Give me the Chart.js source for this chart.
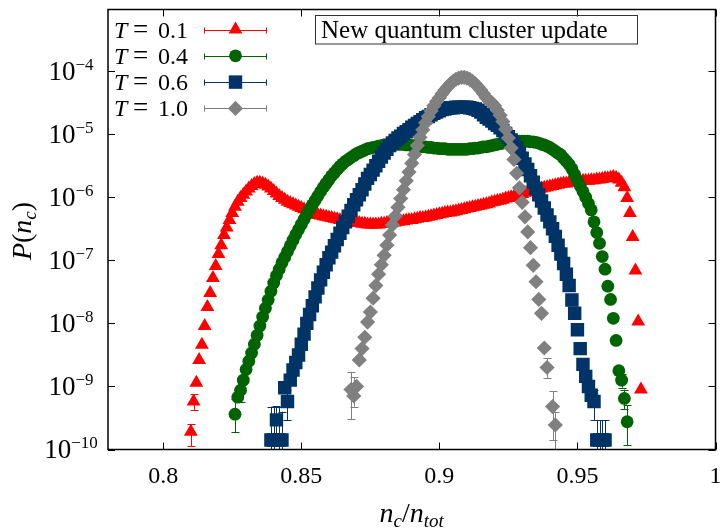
<!DOCTYPE html>
<html>
<head>
<meta charset="utf-8">
<script src="https://cdn.jsdelivr.net/npm/chart.js@4.4.1/dist/chart.umd.min.js"></script>
<style>
  html, body { margin: 0; padding: 0; background: #fff; }
  #wrap { width: 725px; height: 531px; }
</style>
</head>
<body>
<div id="wrap"><canvas id="c"></canvas></div>
<script>
// P(n_c), as [n_c/n_tot, log10 P]
const t01 = [
  [0.810,-9.72],[0.811,-9.24],[0.812,-8.94],[0.813,-8.58],[0.814,-8.34],[0.815,-8.04],[0.816,-7.74],[0.817,-7.52],
  [0.818,-7.28],[0.819,-7.09],[0.820,-6.90],[0.821,-6.76],[0.822,-6.60],[0.823,-6.48],[0.824,-6.36],[0.825,-6.25],
  [0.826,-6.15],[0.827,-6.07],[0.828,-6.01],[0.829,-5.96],[0.830,-5.91],[0.831,-5.86],[0.832,-5.82],[0.833,-5.79],
  [0.834,-5.77],[0.835,-5.77],[0.836,-5.78],[0.837,-5.80],[0.838,-5.83],[0.839,-5.86],[0.840,-5.90],[0.841,-5.94],
  [0.842,-5.98],[0.843,-6.01],[0.844,-6.04],[0.845,-6.07],[0.846,-6.09],[0.847,-6.11],[0.848,-6.13],[0.849,-6.15],
  [0.850,-6.17],[0.851,-6.19],[0.852,-6.21],[0.853,-6.23],[0.854,-6.25],[0.855,-6.26],[0.856,-6.28],[0.857,-6.29],
  [0.858,-6.30],[0.859,-6.31],[0.860,-6.32],[0.861,-6.33],[0.862,-6.34],[0.863,-6.35],[0.864,-6.36],[0.865,-6.37],
  [0.866,-6.38],[0.867,-6.39],[0.868,-6.40],[0.869,-6.40],[0.870,-6.41],[0.871,-6.41],[0.872,-6.42],[0.873,-6.42],
  [0.874,-6.43],[0.875,-6.43],[0.876,-6.43],[0.877,-6.43],[0.878,-6.43],[0.879,-6.42],[0.880,-6.42],[0.881,-6.41],
  [0.882,-6.41],[0.883,-6.40],[0.884,-6.40],[0.885,-6.39],[0.886,-6.38],[0.887,-6.38],[0.888,-6.37],[0.889,-6.36],
  [0.890,-6.36],[0.891,-6.35],[0.892,-6.34],[0.893,-6.33],[0.894,-6.33],[0.895,-6.32],[0.896,-6.31],[0.897,-6.30],
  [0.898,-6.29],[0.899,-6.28],[0.900,-6.27],[0.901,-6.26],[0.902,-6.25],[0.903,-6.24],[0.904,-6.24],[0.905,-6.23],
  [0.906,-6.22],[0.907,-6.21],[0.908,-6.20],[0.909,-6.19],[0.910,-6.18],[0.911,-6.17],[0.912,-6.16],[0.913,-6.15],
  [0.914,-6.14],[0.915,-6.13],[0.916,-6.12],[0.917,-6.11],[0.918,-6.10],[0.919,-6.08],[0.920,-6.07],[0.921,-6.06],
  [0.922,-6.05],[0.923,-6.04],[0.924,-6.02],[0.925,-6.01],[0.926,-6.00],[0.927,-5.99],[0.928,-5.97],[0.929,-5.96],
  [0.930,-5.95],[0.931,-5.93],[0.932,-5.92],[0.933,-5.91],[0.934,-5.89],[0.935,-5.88],[0.936,-5.87],[0.937,-5.86],
  [0.938,-5.85],[0.939,-5.84],[0.940,-5.83],[0.941,-5.82],[0.942,-5.81],[0.943,-5.80],[0.944,-5.79],[0.945,-5.78],
  [0.946,-5.78],[0.947,-5.77],[0.948,-5.76],[0.949,-5.76],[0.950,-5.75],[0.951,-5.75],[0.952,-5.74],[0.953,-5.74],
  [0.954,-5.74],[0.955,-5.73],[0.956,-5.73],[0.957,-5.72],[0.958,-5.72],[0.959,-5.71],[0.960,-5.70],[0.961,-5.70],
  [0.962,-5.69],[0.963,-5.68],[0.964,-5.69],[0.965,-5.72],[0.966,-5.77],[0.967,-5.84],[0.968,-6.01],[0.969,-6.25],
  [0.970,-6.63],[0.971,-7.16],[0.972,-7.97],[0.973,-9.05]
];
const t04 = [
  [0.826,-9.44],[0.827,-9.17],[0.828,-9.06],[0.829,-8.90],[0.830,-8.73],[0.831,-8.60],[0.832,-8.47],[0.833,-8.33],
  [0.834,-8.19],[0.835,-8.04],[0.836,-7.90],[0.837,-7.76],[0.838,-7.63],[0.839,-7.49],[0.840,-7.36],[0.841,-7.24],
  [0.842,-7.14],[0.843,-7.04],[0.844,-6.95],[0.845,-6.86],[0.846,-6.77],[0.847,-6.68],[0.848,-6.59],[0.849,-6.51],
  [0.850,-6.43],[0.851,-6.35],[0.852,-6.27],[0.853,-6.19],[0.854,-6.12],[0.855,-6.05],[0.856,-5.98],[0.857,-5.91],
  [0.858,-5.84],[0.859,-5.78],[0.860,-5.72],[0.861,-5.66],[0.862,-5.61],[0.863,-5.56],[0.864,-5.51],[0.865,-5.47],
  [0.866,-5.43],[0.867,-5.40],[0.868,-5.37],[0.869,-5.34],[0.870,-5.31],[0.871,-5.29],[0.872,-5.27],[0.873,-5.25],
  [0.874,-5.23],[0.875,-5.22],[0.876,-5.21],[0.877,-5.20],[0.878,-5.19],[0.879,-5.18],[0.880,-5.17],[0.881,-5.17],
  [0.882,-5.16],[0.883,-5.16],[0.884,-5.16],[0.885,-5.16],[0.886,-5.16],[0.887,-5.16],[0.888,-5.17],[0.889,-5.17],
  [0.890,-5.18],[0.891,-5.18],[0.892,-5.19],[0.893,-5.19],[0.894,-5.20],[0.895,-5.20],[0.896,-5.21],[0.897,-5.21],
  [0.898,-5.22],[0.899,-5.22],[0.900,-5.23],[0.901,-5.23],[0.902,-5.23],[0.903,-5.24],[0.904,-5.24],[0.905,-5.24],
  [0.906,-5.24],[0.907,-5.24],[0.908,-5.24],[0.909,-5.24],[0.910,-5.24],[0.911,-5.23],[0.912,-5.23],[0.913,-5.22],
  [0.914,-5.22],[0.915,-5.21],[0.916,-5.20],[0.917,-5.20],[0.918,-5.19],[0.919,-5.18],[0.920,-5.17],[0.921,-5.16],
  [0.922,-5.15],[0.923,-5.14],[0.924,-5.13],[0.925,-5.13],[0.926,-5.12],[0.927,-5.12],[0.928,-5.11],[0.929,-5.11],
  [0.930,-5.11],[0.931,-5.11],[0.932,-5.11],[0.933,-5.12],[0.934,-5.12],[0.935,-5.13],[0.936,-5.14],[0.937,-5.16],
  [0.938,-5.17],[0.939,-5.19],[0.940,-5.21],[0.941,-5.24],[0.942,-5.27],[0.943,-5.30],[0.944,-5.33],[0.945,-5.38],
  [0.946,-5.43],[0.947,-5.48],[0.948,-5.55],[0.949,-5.64],[0.950,-5.73],[0.951,-5.82],[0.952,-5.91],[0.953,-6.00],
  [0.954,-6.10],[0.955,-6.20],[0.956,-6.39],[0.957,-6.56],[0.958,-6.73],[0.959,-6.94],[0.960,-7.14],[0.961,-7.41],
  [0.962,-7.62],[0.963,-7.92],[0.964,-8.27],[0.965,-8.75],[0.966,-8.90],[0.967,-9.19],[0.968,-9.56]
];
const t06 = [
  [0.839,-9.85],[0.840,-9.85],[0.841,-9.53],[0.842,-9.85],[0.843,-9.85],[0.844,-9.02],[0.845,-9.24],[0.846,-8.90],
  [0.847,-8.74],[0.848,-8.62],[0.849,-8.50],[0.850,-8.33],[0.851,-8.17],[0.852,-8.00],[0.853,-7.86],[0.854,-7.72],
  [0.855,-7.58],[0.856,-7.44],[0.857,-7.31],[0.858,-7.19],[0.859,-7.07],[0.860,-6.96],[0.861,-6.87],[0.862,-6.77],
  [0.863,-6.67],[0.864,-6.57],[0.865,-6.48],[0.866,-6.39],[0.867,-6.30],[0.868,-6.21],[0.869,-6.12],[0.870,-6.04],
  [0.871,-5.96],[0.872,-5.88],[0.873,-5.79],[0.874,-5.70],[0.875,-5.64],[0.876,-5.57],[0.877,-5.50],[0.878,-5.43],
  [0.879,-5.36],[0.880,-5.30],[0.881,-5.24],[0.882,-5.18],[0.883,-5.14],[0.884,-5.10],[0.885,-5.06],[0.886,-5.03],
  [0.887,-4.99],[0.888,-4.96],[0.889,-4.93],[0.890,-4.89],[0.891,-4.86],[0.892,-4.83],[0.893,-4.80],[0.894,-4.77],
  [0.895,-4.74],[0.896,-4.72],[0.897,-4.69],[0.898,-4.67],[0.899,-4.65],[0.900,-4.63],[0.901,-4.61],[0.902,-4.60],
  [0.903,-4.59],[0.904,-4.58],[0.905,-4.58],[0.906,-4.57],[0.907,-4.57],[0.908,-4.57],[0.909,-4.57],[0.910,-4.57],
  [0.911,-4.58],[0.912,-4.59],[0.913,-4.60],[0.914,-4.62],[0.915,-4.65],[0.916,-4.69],[0.917,-4.73],[0.918,-4.76],
  [0.919,-4.79],[0.920,-4.83],[0.921,-4.86],[0.922,-4.90],[0.923,-4.94],[0.924,-4.99],[0.925,-5.04],[0.926,-5.09],
  [0.927,-5.15],[0.928,-5.22],[0.929,-5.30],[0.930,-5.38],[0.931,-5.47],[0.932,-5.56],[0.933,-5.66],[0.934,-5.76],
  [0.935,-5.86],[0.936,-5.96],[0.937,-6.06],[0.938,-6.17],[0.939,-6.28],[0.940,-6.39],[0.941,-6.50],[0.942,-6.62],
  [0.943,-6.76],[0.944,-6.90],[0.945,-7.05],[0.946,-7.22],[0.947,-7.40],[0.948,-7.63],[0.949,-7.84],[0.950,-8.10],
  [0.951,-8.40],[0.952,-8.65],[0.953,-8.84],[0.954,-9.00],[0.955,-9.14],[0.956,-9.24],[0.957,-9.85],[0.958,-9.85],
  [0.959,-9.85],[0.960,-9.85]
];
const t10 = [
  [0.868,-9.05],[0.869,-9.15],[0.870,-9.00],[0.871,-8.58],[0.872,-8.40],[0.873,-8.22],[0.874,-7.98],[0.875,-7.82],
  [0.876,-7.60],[0.877,-7.40],[0.878,-7.22],[0.879,-7.07],[0.880,-6.92],[0.881,-6.76],[0.882,-6.60],[0.883,-6.44],
  [0.884,-6.30],[0.885,-6.16],[0.886,-6.02],[0.887,-5.88],[0.888,-5.74],[0.889,-5.60],[0.890,-5.46],[0.891,-5.32],
  [0.892,-5.18],[0.893,-5.05],[0.894,-4.93],[0.895,-4.82],[0.896,-4.72],[0.897,-4.63],[0.898,-4.55],[0.899,-4.48],
  [0.900,-4.42],[0.901,-4.36],[0.902,-4.30],[0.903,-4.25],[0.904,-4.20],[0.905,-4.16],[0.906,-4.13],[0.907,-4.11],
  [0.908,-4.10],[0.909,-4.10],[0.910,-4.11],[0.911,-4.13],[0.912,-4.16],[0.913,-4.20],[0.914,-4.25],[0.915,-4.30],
  [0.916,-4.36],[0.917,-4.42],[0.918,-4.47],[0.919,-4.50],[0.920,-4.55],[0.921,-4.62],[0.922,-4.70],[0.923,-4.80],
  [0.924,-4.92],[0.925,-5.06],[0.926,-5.22],[0.927,-5.40],[0.928,-5.62],[0.929,-5.85],[0.930,-6.08],[0.931,-6.31],
  [0.932,-6.55],[0.933,-6.80],[0.934,-7.08],[0.935,-7.34],[0.936,-7.62],[0.937,-7.84],[0.938,-8.39],[0.939,-8.70],
  [0.941,-9.32],[0.942,-9.61]
];

// error bars on the sparse tail points: [n_c/n_tot, log10 low, log10 high]
const err01 = [[0.810,-9.95,-9.60],[0.811,-9.37,-9.12]];
const err04 = [[0.826,-9.73,-9.20],[0.828,-9.25,-8.90],[0.966,-9.02,-8.80],[0.967,-9.36,-9.05],[0.968,-9.93,-9.30]];
const err06 = [[0.839,-10.3,-9.32],[0.840,-10.3,-9.32],[0.841,-9.80,-9.31],[0.842,-10.3,-9.32],[0.843,-10.3,-9.40],
  [0.845,-9.54,-9.05],[0.956,-9.53,-9.05],[0.957,-10.3,-9.54],[0.958,-10.3,-9.54],[0.959,-10.3,-9.54],[0.960,-10.3,-9.54]];
const err10 = [[0.868,-9.52,-8.77],[0.869,-9.32,-8.85],[0.939,-8.87,-8.55],[0.941,-9.85,-9.08],[0.942,-10.3,-9.40]];

const temps = ['0.1', '0.4', '0.6', '1.0'];
const xTicks = [0.8, 0.85, 0.9, 0.95, 1];
const xTickLabels = ['0.8', '0.85', '0.9', '0.95', '1'];
const yTickExp = [-10, -9, -8, -7, -6, -5, -4];
const boxText = 'New quantum cluster update';

const colors = ['#ff0000', '#006400', '#003366', '#808080'];
const shapes = ['triangle', 'circle', 'rect', 'rectRot'];
const radii = [8, 6.4, 9.5, 7.6];
const SERIF = '"Liberation Serif", "DejaVu Serif", serif';

const series = [t01, t04, t06, t10];
const errs = [err01, err04, err06, err10];

const datasets = series.map((s, i) => ({
  label: 'T = ' + temps[i],
  data: s.map(p => ({ x: p[0], y: Math.pow(10, p[1]) })),
  pointStyle: shapes[i],
  pointRadius: radii[i],
  pointHoverRadius: radii[i],
  backgroundColor: colors[i],
  borderColor: colors[i],
  pointBorderWidth: 0,
  borderWidth: 0,
  showLine: false,
  order: 4 - i
}));

function marker(ctx, i, x, y) {
  ctx.fillStyle = colors[i];
  Chart.helpers.drawPoint(ctx, { pointStyle: shapes[i], rotation: 0, radius: radii[i], borderWidth: 0 }, x, y);
}

// draws a list of [text, italic, size, dy] pieces left to right, returns width
function pieces(ctx, parts, x, y, measureOnly) {
  let w = 0;
  parts.forEach(p => {
    ctx.font = (p[1] ? 'italic ' : '') + p[2] + 'px ' + SERIF;
    if (!measureOnly) ctx.fillText(p[0], x + w, y + (p[3] || 0));
    w += ctx.measureText(p[0]).width;
  });
  return w;
}

const decor = {
  id: 'decor',
  beforeDatasetsDraw(chart) {
    const ctx = chart.ctx, a = chart.chartArea;
    const xs = chart.scales.x, ys = chart.scales.y;
    ctx.save();
    ctx.beginPath();
    ctx.rect(a.left, a.top, a.right - a.left, a.bottom - a.top);
    ctx.clip();
    ctx.lineWidth = 1;
    errs.forEach((list, i) => {
      ctx.strokeStyle = colors[i];
      list.forEach(e => {
        const px = Math.round(xs.getPixelForValue(e[0])) + 0.5;
        const lo = ys.getPixelForValue(Math.pow(10, e[1]));
        const hi = ys.getPixelForValue(Math.pow(10, e[2]));
        ctx.beginPath();
        ctx.moveTo(px, lo); ctx.lineTo(px, hi);
        ctx.moveTo(px - 4, Math.round(lo) + 0.5); ctx.lineTo(px + 4, Math.round(lo) + 0.5);
        ctx.moveTo(px - 4, Math.round(hi) + 0.5); ctx.lineTo(px + 4, Math.round(hi) + 0.5);
        ctx.stroke();
      });
    });
    ctx.restore();
  },
  afterDraw(chart) {
    const ctx = chart.ctx, a = chart.chartArea;
    const xs = chart.scales.x, ys = chart.scales.y;
    ctx.save();

    // frame and inward ticks
    ctx.strokeStyle = '#000';
    ctx.lineWidth = 1.5;
    ctx.strokeRect(a.left, a.top, a.right - a.left, a.bottom - a.top);
    ctx.lineWidth = 1;
    ctx.beginPath();
    xTicks.forEach(v => {
      const px = Math.round(xs.getPixelForValue(v)) + 0.5;
      ctx.moveTo(px, a.bottom); ctx.lineTo(px, a.bottom - 7);
      ctx.moveTo(px, a.top); ctx.lineTo(px, a.top + 7);
    });
    yTickExp.forEach(e => {
      const py = Math.round(ys.getPixelForValue(Math.pow(10, e))) + 0.5;
      ctx.moveTo(a.left, py); ctx.lineTo(a.left + 7, py);
      ctx.moveTo(a.right, py); ctx.lineTo(a.right - 7, py);
    });
    ctx.stroke();

    ctx.fillStyle = '#000';
    ctx.textBaseline = 'alphabetic';

    // x tick labels
    ctx.font = '24px ' + SERIF;
    ctx.textAlign = 'center';
    xTicks.forEach((v, k) => {
      ctx.fillText(xTickLabels[k], xs.getPixelForValue(v), 483);
    });

    // y tick labels 10^e
    ctx.textAlign = 'left';
    yTickExp.forEach(e => {
      const py = ys.getPixelForValue(Math.pow(10, e));
      const parts = [['10', false, 27, 0], ['\u2212' + (-e), false, 17, -10]];
      const w = pieces(ctx, parts, 0, 0, true);
      pieces(ctx, parts, 71 - w / 2, py + 8.5);
    });

    // axis titles
    const xt = [['n', true, 28, 0], ['c', true, 19, 5], ['/', false, 28, 0], ['n', true, 28, 0], ['tot', true, 19, 5]];
    const xw = pieces(ctx, xt, 0, 0, true);
    pieces(ctx, xt, (a.left + a.right) / 2 - xw / 2, 522);

    const yt = [['P', true, 28, 0], ['(', false, 28, 0], ['n', true, 28, 0], ['c', true, 19, 5], [')', false, 28, 0]];
    const yw = pieces(ctx, yt, 0, 0, true);
    ctx.save();
    ctx.translate(31, 231);
    ctx.rotate(-Math.PI / 2);
    pieces(ctx, yt, -yw / 2, 0);
    ctx.restore();

    // legend with error-bar samples
    temps.forEach((t, i) => {
      const y = 29.5 + i * 26.3;
      ctx.fillStyle = '#000';
      pieces(ctx, [['T', true, 24, 0]], 114, y + 8);
      pieces(ctx, [['=', false, 27, 0]], 133, y + 8);
      pieces(ctx, [[t, false, 24, 0]], 158, y + 8);
      ctx.strokeStyle = colors[i];
      ctx.lineWidth = 1;
      const yy = Math.round(y) + 0.5;
      ctx.beginPath();
      ctx.moveTo(204, yy); ctx.lineTo(267, yy);
      ctx.moveTo(204.5, yy - 3); ctx.lineTo(204.5, yy + 3);
      ctx.moveTo(266.5, yy - 3); ctx.lineTo(266.5, yy + 3);
      ctx.stroke();
      marker(ctx, i, 235.5, y);
    });

    // boxed label
    ctx.strokeStyle = '#333';
    ctx.lineWidth = 1;
    ctx.strokeRect(315.5, 15.5, 322, 28.5);
    ctx.fillStyle = '#000';
    ctx.font = '25px ' + SERIF;
    ctx.textAlign = 'left';
    ctx.fillText(boxText, 321, 37.5);

    ctx.restore();
  }
};

new Chart(document.getElementById('c'), {
  type: 'scatter',
  data: { datasets: datasets },
  options: {
    responsive: true,
    maintainAspectRatio: false,
    animation: false,
    events: [],
    layout: { padding: { left: 108, right: 8, top: 9, bottom: 81.5 } },
    plugins: { legend: { display: false }, tooltip: { enabled: false } },
    scales: {
      x: { type: 'linear', min: 0.78, max: 1.0, display: false },
      y: { type: 'logarithmic', min: 1e-10, max: 9.5e-4, display: false }
    }
  },
  plugins: [decor]
});
</script>
</body>
</html>
